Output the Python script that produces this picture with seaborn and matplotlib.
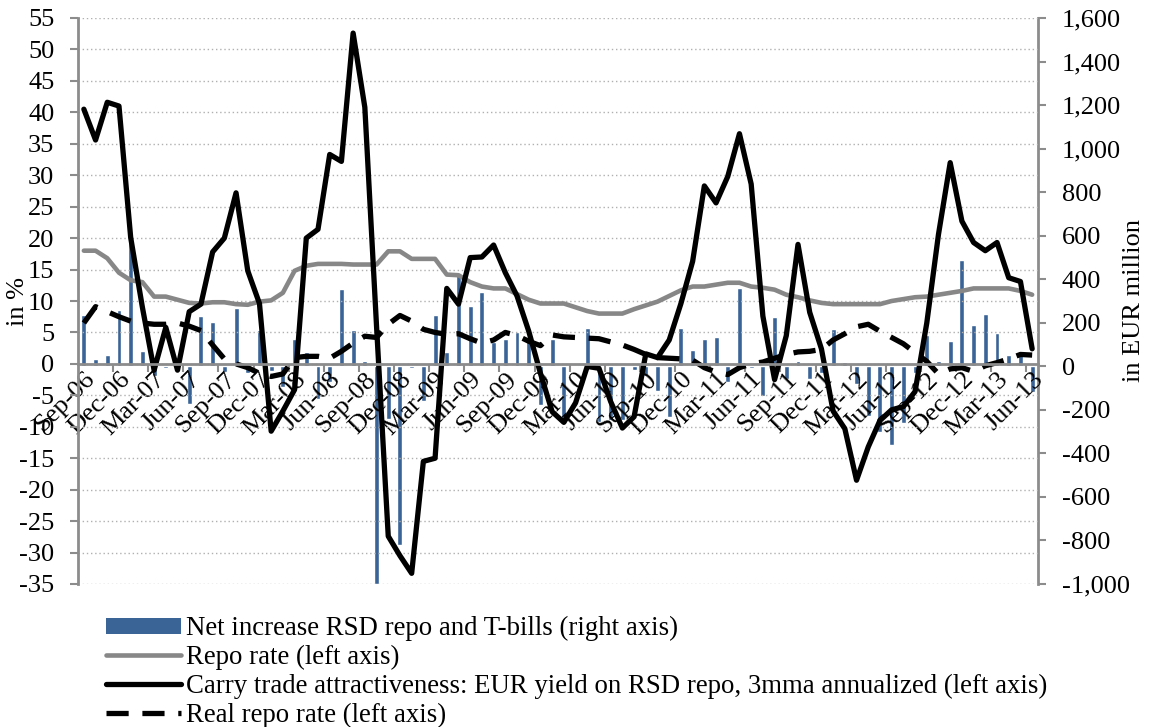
import numpy as np
import pandas as pd
import matplotlib
matplotlib.use("Agg")
import matplotlib.pyplot as plt
import seaborn as sns
from matplotlib.lines import Line2D
from matplotlib.patches import Patch
from matplotlib.ticker import FuncFormatter, FixedLocator

# ---------------- data (monthly, Sep-06 .. Jun-13) ----------------
tick_labels = ["Sep-06", "Dec-06", "Mar-07", "Jun-07", "Sep-07", "Dec-07", "Mar-08",
               "Jun-08", "Sep-08", "Dec-08", "Mar-09", "Jun-09", "Sep-09", "Dec-09",
               "Mar-10", "Jun-10", "Sep-10", "Dec-10", "Mar-11", "Jun-11", "Sep-11",
               "Dec-11", "Mar-12", "Jun-12", "Sep-12", "Dec-12", "Mar-13", "Jun-13"]

net_increase = [235, 35, 50, 260, 580, 70, -45, -10, -5, -175,
                230, 203, -26, 270, -30, 168, -20, -95, 125, 64,
                -150, -70, 354, 168, 26, -1000, -240, -820, -8, -160,
                234, 64, 428, 276, 341, 110, 125, 159, 133, -176,
                125, -260, -5, 176, -257, -245, -245, -15, -43, -115,
                -233, 176, 75, 125, 133, -70, 360, -10, -135, 225,
                -60, 25, -60, -30, 172, 20, -80, -230, -300, -360,
                -260, -30, 145, 25, 118, 490, 190, 242, 155, 52,
                72, -120]

repo_rate = [18.0, 18.0, 16.8, 14.5, 13.3, 13.0, 10.7, 10.7, 10.2, 9.7,
             9.6, 9.8, 9.8, 9.5, 9.4, 9.9, 10.1, 11.3, 14.8, 15.6,
             15.9, 15.9, 15.9, 15.8, 15.8, 15.8, 17.9, 17.9, 16.7, 16.7,
             16.7, 14.2, 14.1, 13.0, 12.3, 12.0, 12.0, 11.1, 10.2, 9.6,
             9.6, 9.6, 9.0, 8.4, 8.0, 8.0, 8.0, 8.7, 9.3, 9.9,
             10.8, 11.7, 12.3, 12.3, 12.6, 12.9, 12.9, 12.3, 12.1, 11.8,
             11.0, 10.6, 10.1, 9.7, 9.5, 9.5, 9.5, 9.5, 9.5, 10.0,
             10.3, 10.6, 10.7, 11.0, 11.3, 11.6, 12.0, 12.0, 12.0, 12.0,
             11.6, 11.0]

carry_trade = [40.5, 35.6, 41.6, 41.0, 20.1, 9.0, -1.0, 5.8, -1.0, 8.3,
               9.5, 17.8, 20.0, 27.2, 14.8, 9.6, -10.7, -7.5, -4.1, 20.0,
               21.4, 33.3, 32.2, 52.6, 40.8, 6.0, -27.4, -30.5, -33.3, -15.5,
               -15.0, 12.0, 9.5, 16.9, 17.0, 18.9, 14.5, 10.8, 5.2, -1.5,
               -7.6, -9.3, -6.2, -0.4, -0.7, -6.0, -10.2, -8.4, 1.6, 1.0,
               3.8, 9.6, 16.3, 28.3, 25.6, 29.8, 36.6, 28.6, 7.6, -2.5,
               4.5, 19.0, 8.2, 2.4, -7.5, -10.3, -18.5, -13.2, -9.0, -7.3,
               -6.8, -4.4, 6.5, 20.6, 32.0, 22.7, 19.3, 18.0, 19.3, 13.7,
               13.1, 2.4]

real_repo = [6.5, 9.1, 8.3, 7.5, 6.8, 6.5, 6.3, 6.3, 6.5, 6.0,
             5.3, 3.0, 0.8, 0.0, -0.6, -1.5, -2.0, -1.6, 1.0, 1.2,
             1.2, 0.9, 2.0, 3.3, 4.4, 4.2, 6.3, 7.7, 6.8, 5.5,
             5.0, 4.7, 4.8, 4.0, 3.3, 3.8, 5.0, 4.5, 3.6, 2.9,
             4.6, 4.3, 4.2, 4.1, 4.0, 3.5, 3.0, 2.3, 1.5, 1.0,
             0.9, 0.8, 0.6, -0.6, -1.3, -1.7, -0.6, 0.0, 0.3, 0.9,
             1.5, 1.9, 2.0, 2.3, 3.8, 4.8, 5.9, 6.3, 5.2, 4.2,
             3.2, 1.8, 0.4, -1.6, -0.8, -0.6, -1.2, -0.3, 0.2, 0.8,
             1.5, 1.4]

legend_labels = ["Net increase RSD repo and T-bills (right axis)",
                 "Repo rate (left axis)",
                 "Carry trade attractiveness: EUR yield on RSD repo, 3mma annualized (left axis)",
                 "Real repo rate (left axis)"]

# ---------------- styling ----------------
sns.set_theme(style="white")
plt.rcParams["font.family"] = ["Liberation Serif", "DejaVu Serif"]
plt.rcParams["axes.unicode_minus"] = False
plt.rcParams["text.color"] = "black"
plt.rcParams["axes.labelcolor"] = "black"

BAR_C = "#3A6496"
REPO_C = "#878787"
AXIS_C = "#8C8C8C"
FS = 19
LEG_FS = 19.3
DASH = (0, (4.2, 2.6))

n = len(net_increase)
df = pd.DataFrame({"m": np.arange(n), "flow": net_increase, "repo": repo_rate,
                   "carry": carry_trade, "real": real_repo})

fig = plt.figure(figsize=(11.51, 7.27), dpi=100)
ax_b = fig.add_axes([78 / 1151, 1 - 584 / 727, (1038 - 78) / 1151, (584 - 18) / 727])
ax_l = ax_b.twinx()
ax_l.xaxis.set_visible(True)

# bars on the right axis (drawn below the lines)
sns.barplot(data=df, x="m", y="flow", ax=ax_b, native_scale=True, color=BAR_C,
            saturation=1, width=0.42, errorbar=None)

# lines on the left axis
sns.lineplot(data=df, x="m", y="repo", ax=ax_l, color=REPO_C, lw=3.3)
sns.lineplot(data=df, x="m", y="carry", ax=ax_l, color="black", lw=3.8)
sns.lineplot(data=df, x="m", y="real", ax=ax_l, color="black", lw=3.8)
real_line = ax_l.lines[-1]
real_line.set_linestyle(DASH)
real_line.set_dash_capstyle("butt")

ax_b.set_xlim(-0.5, n - 0.5)
ax_l.set_xlim(-0.5, n - 0.5)
ax_l.set_ylim(-35, 55)
ax_b.set_ylim(-1000, 1600)

# axis sides
ax_b.yaxis.tick_right()
ax_b.yaxis.set_label_position("right")
ax_l.yaxis.tick_left()
ax_l.yaxis.set_label_position("left")

ax_l.yaxis.set_major_locator(FixedLocator(np.arange(-35, 56, 5)))
ax_b.yaxis.set_major_locator(FixedLocator(np.arange(-1000, 1601, 200)))
ax_b.yaxis.set_major_formatter(FuncFormatter(lambda v, p: f"{int(v):,}"))

ax_l.grid(axis="y", linestyle=(0, (1, 2)), color="#B0B0B0", lw=1)
ax_l.grid(axis="x", visible=False)
ax_b.grid(False)

for s in ["top", "right"]:
    ax_l.spines[s].set_visible(False)
for s in ["top", "left", "bottom"]:
    ax_b.spines[s].set_visible(False)
ax_l.spines["left"].set_color(AXIS_C)
ax_l.spines["left"].set_linewidth(2)
ax_l.spines["bottom"].set_visible(True)
ax_l.spines["bottom"].set_position(("data", 0))
ax_l.spines["bottom"].set_color(AXIS_C)
ax_l.spines["bottom"].set_linewidth(2)
ax_b.spines["right"].set_visible(True)
ax_b.spines["right"].set_color(AXIS_C)
ax_b.spines["right"].set_linewidth(2)

ax_l.tick_params(axis="y", which="major", direction="out", length=6, width=1.5,
                 color=AXIS_C, labelsize=FS, labelcolor="black", pad=11, left=True)
ax_b.tick_params(axis="y", which="major", direction="out", length=6, width=1.5,
                 color=AXIS_C, labelsize=FS, labelcolor="black", pad=11, right=True)

# x axis: category labels every 3 months, tick marks between categories
ax_b.tick_params(axis="x", which="both", bottom=False, labelbottom=False)
ax_l.xaxis.set_ticks_position("bottom")
ax_l.set_xticks(np.arange(0, n, 3))
ax_l.set_xticklabels(tick_labels, rotation=45, ha="right", va="top",
                     rotation_mode="anchor", fontsize=FS)
ax_l.set_xticks(np.arange(2.5, n, 3), minor=True)
ax_l.tick_params(axis="x", which="major", length=0, pad=3, labelcolor="black",
                 bottom=True, labelbottom=True)
ax_l.tick_params(axis="x", which="minor", direction="out", length=6, width=1.5,
                 color=AXIS_C, bottom=True)

ax_l.set_xlabel("")
ax_b.set_xlabel("")
ax_l.set_ylabel("in %", fontsize=FS, color="black")
ax_b.set_ylabel("in EUR million", fontsize=FS, color="black")
ax_l.yaxis.set_label_coords(-0.051, 0.5)
ax_b.yaxis.set_label_coords(1.0885, 0.5)

handles = [Patch(facecolor=BAR_C, edgecolor="none"),
           Line2D([], [], color=REPO_C, lw=3.3),
           Line2D([], [], color="black", lw=3.8),
           Line2D([], [], color="black", lw=3.8, linestyle=DASH, dash_capstyle="butt")]
fig.legend(handles, legend_labels, loc="upper left",
           bbox_to_anchor=(106 / 1151, 1 - 616 / 727), frameon=False,
           fontsize=LEG_FS, handlelength=2.8, handleheight=0.55, handletextpad=0.2,
           labelspacing=0.145, borderaxespad=0, borderpad=0)

fig.savefig("out.png", dpi=100)
